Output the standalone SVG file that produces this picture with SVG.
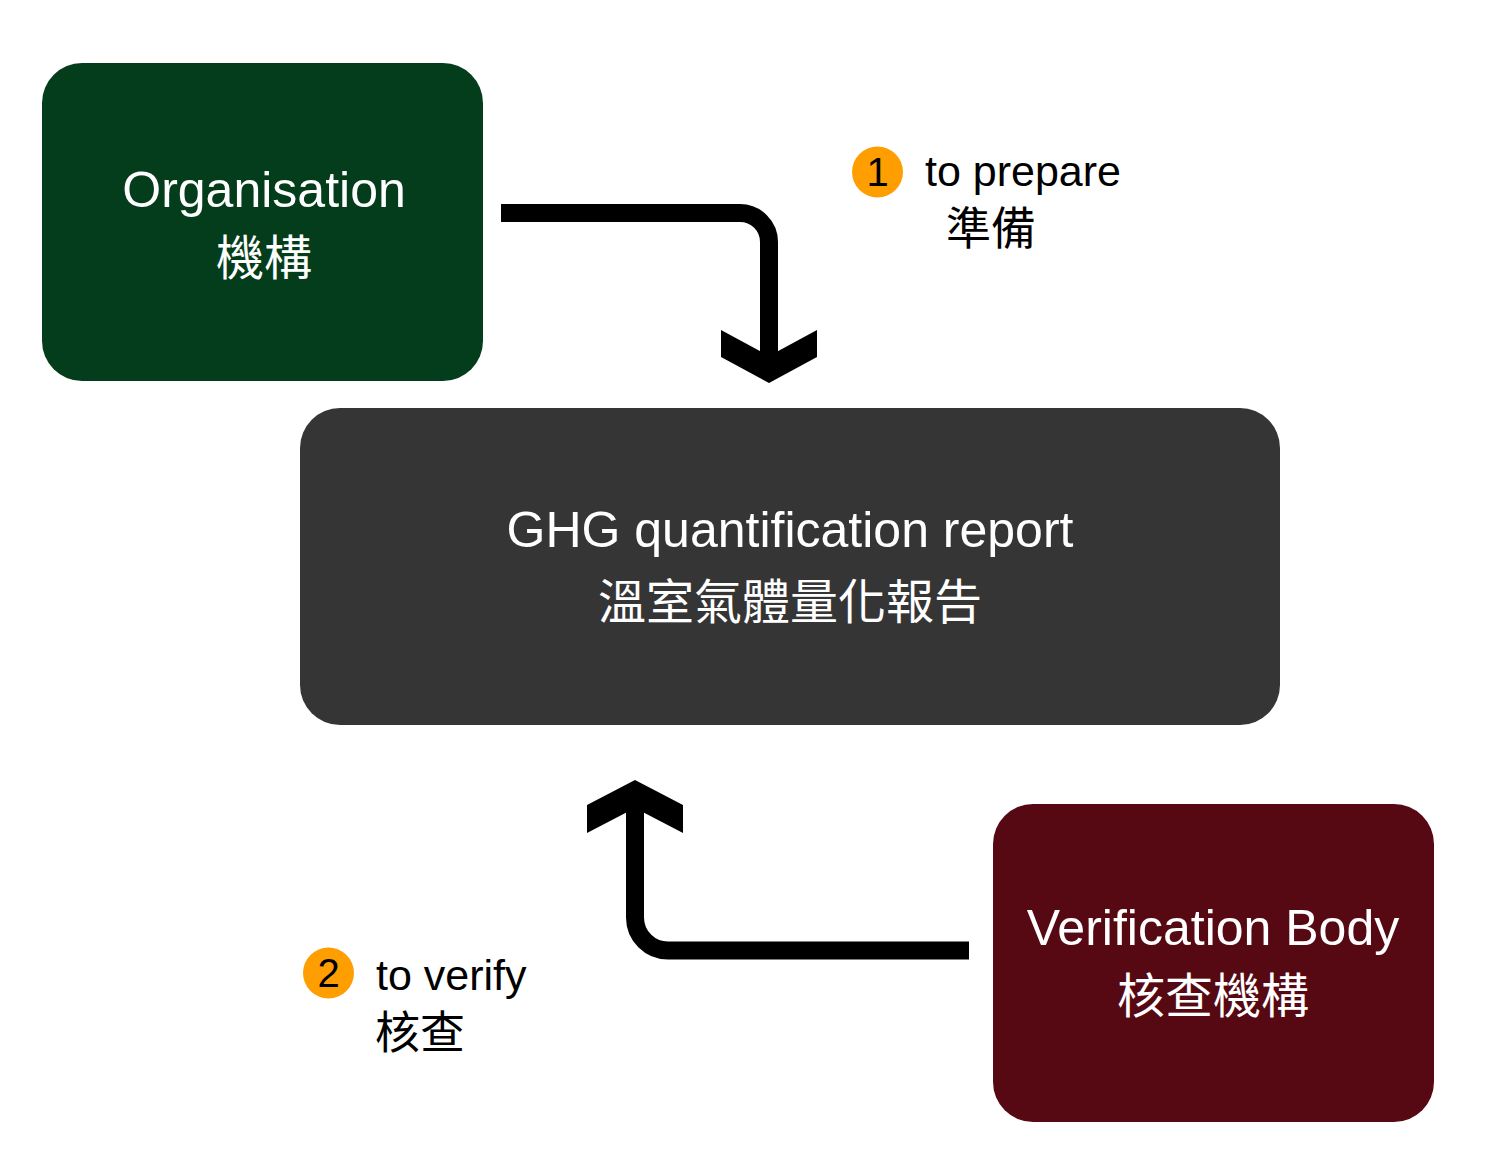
<svg xmlns="http://www.w3.org/2000/svg" width="1500" height="1170" viewBox="0 0 1500 1170">
<style>
.en{font-family:"Liberation Sans",Arial,sans-serif;font-size:50px;fill:#fff;text-anchor:middle}
.zh{font-family:"Noto Sans CJK TC","Noto Sans CJK SC",sans-serif;font-size:48px;fill:#fff;text-anchor:middle}
.len{font-family:"Liberation Sans",Arial,sans-serif;font-size:43px;fill:#000}
.lzh{font-family:"Noto Sans CJK TC","Noto Sans CJK SC",sans-serif;font-size:45px;fill:#000}
.num{font-family:"Liberation Sans",Arial,sans-serif;font-size:40px;fill:#000;text-anchor:middle}
.badge{fill:#ff9e00}
.line{fill:none;stroke:#000;stroke-width:18}
.head{fill:#000}
</style>
<rect width="1500" height="1170" fill="#fff"/>
<g id="organisation">
<rect x="42" y="63" width="441" height="318" rx="40" ry="40" fill="#043d1b"/>
<text class="en" x="264" y="207">Organisation</text>
<text class="zh" x="264" y="275">機構</text>
</g>
<g id="ghg-report">
<rect x="300" y="408" width="980" height="317" rx="40" ry="40" fill="#353536"/>
<text class="en" x="790" y="547">GHG quantification report</text>
<text class="zh" x="790" y="619">溫室氣體量化報告</text>
</g>
<g id="verification-body">
<rect x="993" y="804" width="441" height="318" rx="40" ry="40" fill="#570913"/>
<text class="en" x="1213" y="945">Verification Body</text>
<text class="zh" x="1213" y="1013">核查機構</text>
</g>
<g id="connectors">
<path class="line" d="M501,213 H740 A29,29 0 0 1 769,242 V357"/>
<polygon class="head" points="721,330 769,356 817,330 817,357 769,383 721,357"/>
<path class="line" d="M969,950.5 H668 A33,33 0 0 1 635,917.5 V806"/>
<polygon class="head" points="587,805 635,780 683,805 683,833 635,808 587,833"/>
</g>
<g id="label-prepare">
<circle class="badge" cx="877.5" cy="172" r="25.5"/>
<text class="num" x="877.5" y="186">1</text>
<text class="len" x="925" y="186">to prepare</text>
<text class="lzh" x="946" y="245">準備</text>
</g>
<g id="label-verify">
<circle class="badge" cx="328.5" cy="973" r="25.5"/>
<text class="num" x="328.5" y="987">2</text>
<text class="len" x="376" y="990">to verify</text>
<text class="lzh" x="375" y="1049">核查</text>
</g>
</svg>
